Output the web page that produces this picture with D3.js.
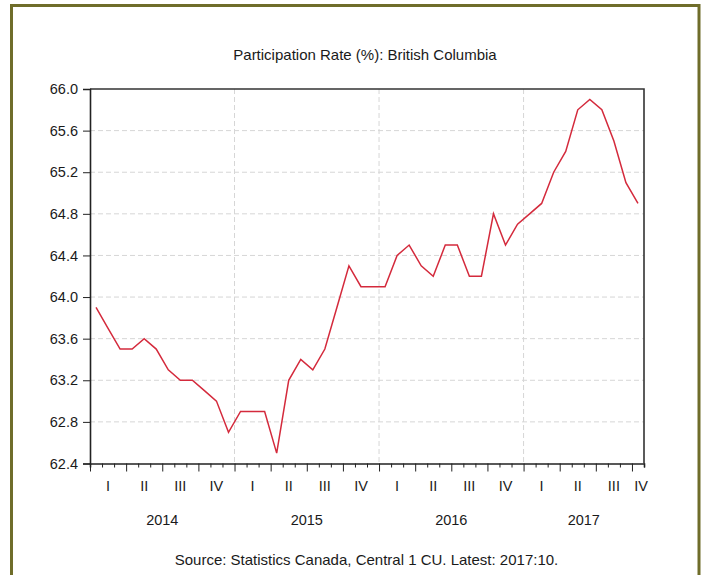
<!DOCTYPE html>
<html><head><meta charset="utf-8">
<script src="https://cdn.jsdelivr.net/npm/d3@7/dist/d3.min.js"></script>
<style>
html,body{margin:0;padding:0;background:#fff;}
svg{display:block;font-family:"Liberation Sans",Arial,sans-serif;}
</style></head>
<body><svg id="c" width="704" height="575"></svg>
<script>
const title = "Participation Rate (%): British Columbia";
const source = "Source: Statistics Canada, Central 1 CU. Latest: 2017:10.";
const years = ["2014", "2015", "2016", "2017"];
const quarterLabels = ["I", "II", "III", "IV"];
const yTicks = [62.4, 62.8, 63.2, 63.6, 64.0, 64.4, 64.8, 65.2, 65.6, 66.0];
const values = [
  63.9, 63.7, 63.5, 63.5, 63.6, 63.5, 63.3, 63.2, 63.2, 63.1, 63.0, 62.7,
  62.9, 62.9, 62.9, 62.5, 63.2, 63.4, 63.3, 63.5, 63.9, 64.3, 64.1, 64.1,
  64.1, 64.4, 64.5, 64.3, 64.2, 64.5, 64.5, 64.2, 64.2, 64.8, 64.5, 64.7,
  64.8, 64.9, 65.2, 65.4, 65.8, 65.9, 65.8, 65.5, 65.1, 64.9
];
const nMonths = 46; // axis spans 2014:01 .. 2017:11 (exclusive)

const svg = d3.select("#c");
const L = 90, R = 644, T = 89, B = 463.5;

// outer frame
svg.append("rect").attr("x", 11.5).attr("y", 5.5).attr("width", 687.5).attr("height", 600)
  .attr("fill", "none").attr("stroke", "#6f6d2a").attr("stroke-width", 3);

const x = d3.scaleLinear().domain([0, nMonths]).range([L, R]);
const y = d3.scaleLinear().domain([62.4, 66.0]).range([B, T]);

// grid
const g = svg.append("g");
g.selectAll(".hg").data(yTicks.slice(1, -1)).join("line")
  .attr("x1", L).attr("x2", R).attr("y1", d => y(d)).attr("y2", d => y(d))
  .attr("stroke", "#d6d6d6").attr("stroke-width", 1).attr("stroke-dasharray", "5,3");
g.selectAll(".vg").data([12, 24, 36]).join("line")
  .attr("x1", d => x(d)).attr("x2", d => x(d)).attr("y1", T).attr("y2", B)
  .attr("stroke", "#d6d6d6").attr("stroke-width", 1).attr("stroke-dasharray", "5,3");

// frame top/right
svg.append("path").attr("d", `M${L},${T}H${R}V${B}`).attr("fill", "none")
  .attr("stroke", "#333").attr("stroke-width", 1.6);

// line
const line = d3.line().x((d, i) => x(i + 0.5)).y(d => y(d));
svg.append("path").datum(values).attr("d", line).attr("fill", "none")
  .attr("stroke", "#d42a3c").attr("stroke-width", 1.5).attr("stroke-linejoin", "miter");

// y axis
const ya = svg.append("g").attr("transform", `translate(${L},0)`)
  .call(d3.axisLeft(y).tickValues(yTicks).tickFormat(d3.format(".1f")).tickSize(7).tickPadding(5));
ya.select(".domain").attr("stroke", "#222").attr("stroke-width", 1.6);
ya.selectAll(".tick line").attr("stroke", "#222");
ya.selectAll("text").attr("font-size", 14.5).attr("fill", "#1a1a1a")
  .attr("font-family", "'Liberation Sans',Arial,sans-serif");

// x axis: month ticks
const monthTicks = d3.range(0, nMonths + 1);
const xa = svg.append("g").attr("transform", `translate(0,${B})`)
  .call(d3.axisBottom(x).tickValues(monthTicks.filter(m => m % 3 !== 0)).tickSize(4).tickFormat(""));
xa.select(".domain").attr("stroke", "#222").attr("stroke-width", 1.6);
xa.selectAll(".tick line").attr("stroke", "#222");
const xq = svg.append("g").attr("transform", `translate(0,${B})`)
  .call(d3.axisBottom(x).tickValues(monthTicks.filter(m => m % 3 === 0)).tickSize(8).tickFormat(""));
xq.select(".domain").remove();
xq.selectAll(".tick line").attr("stroke", "#222");

// quarter labels
const quarters = d3.range(0, Math.ceil(nMonths / 3)).map(q => ({
  q, label: quarterLabels[q % 4], start: q * 3, end: Math.min(q * 3 + 3, nMonths)
}));
svg.append("g").selectAll("text").data(quarters).join("text")
  .attr("x", d => x((d.start + d.end) / 2) + (d.end - d.start < 3 ? 3 : 0)).attr("y", 491)
  .attr("text-anchor", "middle").attr("font-size", 14.5).attr("fill", "#1a1a1a")
  .text(d => d.label);

// year labels
svg.append("g").selectAll("text").data(years).join("text")
  .attr("x", (d, i) => x((i * 12 + Math.min(i * 12 + 12, nMonths)) / 2)).attr("y", 524.5)
  .attr("text-anchor", "middle").attr("font-size", 14.5).attr("fill", "#1a1a1a")
  .text(d => d);

// title & source
svg.append("text").attr("x", 365).attr("y", 59.5).attr("text-anchor", "middle")
  .attr("font-size", 15).attr("fill", "#1a1a1a").text(title);
svg.append("text").attr("x", 366.5).attr("y", 565).attr("text-anchor", "middle")
  .attr("font-size", 15).attr("fill", "#1a1a1a").text(source);
</script></body></html>
